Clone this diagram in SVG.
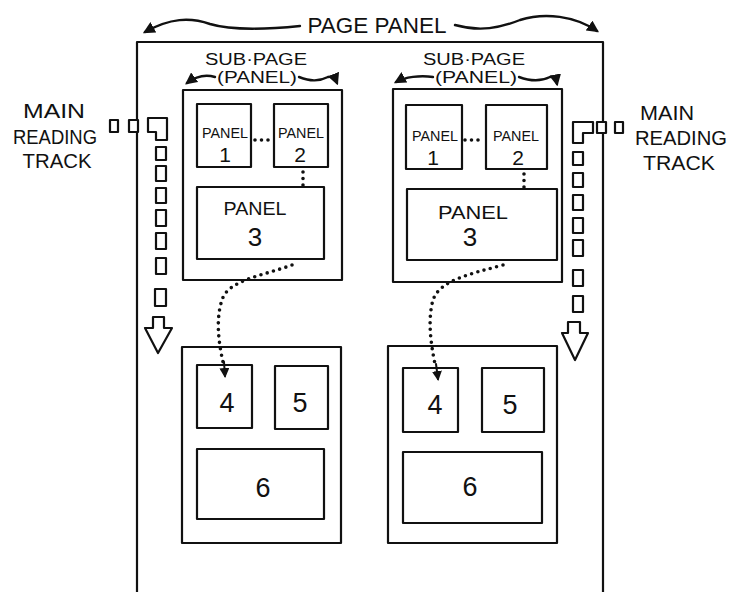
<svg xmlns="http://www.w3.org/2000/svg" width="732" height="592" viewBox="0 0 732 592">
<defs>
<style>
.box{fill:none;stroke:#111;stroke-width:2.2;stroke-linejoin:round}
.trk{fill:#fff;stroke:#111;stroke-width:2.2;stroke-linejoin:round}
.dot{fill:none;stroke:#111;stroke-width:3.6;stroke-linecap:round;stroke-dasharray:0 6.5}
.cur{fill:none;stroke:#111;stroke-width:2.4;stroke-linecap:round}
text{font-family:"Liberation Sans","DejaVu Sans",sans-serif;fill:#111;text-anchor:middle;dominant-baseline:central}
.lbl{font-size:20px}
.sm{font-size:15px}
.md{font-size:19px}
.sub{font-size:16px}
.one{font-size:21px}
.num{font-size:27px}
</style>
<marker id="ah" viewBox="0 0 10 10" refX="8" refY="5" markerWidth="5" markerHeight="5" orient="auto">
<path d="M0,0 L10,5 L0,10 z" fill="#111"/>
</marker>
</defs>
<rect width="732" height="592" fill="#fff"/>

<g id="page-panel">
<polyline class="box" points="137,592 137,42 603,42 603,592"/>
<text x="377" y="25" style="font-size:22px" textLength="139" lengthAdjust="spacingAndGlyphs">PAGE PANEL</text>
<path class="cur" d="M300,26 C260,30 230,30 210,24 C190,17 170,18 145,32" marker-end="url(#ah)"/>
<path class="cur" d="M455,25 C480,32 500,28 520,20 C545,12 575,16 597,31" marker-end="url(#ah)"/>
</g>

<g id="track-left">
<text class="lbl" x="54" y="111" textLength="62" lengthAdjust="spacingAndGlyphs">MAIN</text>
<text class="lbl" x="55" y="137" textLength="84" lengthAdjust="spacingAndGlyphs">READING</text>
<text class="lbl" x="57" y="161" textLength="69" lengthAdjust="spacingAndGlyphs">TRACK</text>
<rect class="trk" x="110" y="120" width="8" height="12"/>
<rect class="trk" x="129" y="120" width="9" height="12"/>
<polygon class="trk" points="148,118 167,118 167,140 156,140 156,132 148,132"/>
<rect class="trk" x="156" y="147" width="10" height="13"/>
<rect class="trk" x="156" y="166" width="10" height="15"/>
<rect class="trk" x="156" y="188" width="10" height="15"/>
<rect class="trk" x="156" y="210" width="10" height="16"/>
<rect class="trk" x="156" y="233" width="10" height="16"/>
<rect class="trk" x="156" y="258" width="10" height="16"/>
<rect class="trk" x="155" y="289" width="11" height="17"/>
<polygon class="trk" points="153,317 164,317 164,328 172,328 158,353 145,328 153,328"/>
</g>

<g id="track-right">
<text class="lbl" x="667" y="113" textLength="54" lengthAdjust="spacingAndGlyphs">MAIN</text>
<text class="lbl" x="681" y="138" textLength="92" lengthAdjust="spacingAndGlyphs">READING</text>
<text class="lbl" x="679" y="163" textLength="72" lengthAdjust="spacingAndGlyphs">TRACK</text>
<rect class="trk" x="597" y="122" width="9" height="11"/>
<rect class="trk" x="615" y="122" width="8" height="11"/>
<polygon class="trk" points="573,122 593,122 593,133 583,133 583,143 573,143"/>
<rect class="trk" x="573" y="152" width="10" height="13"/>
<rect class="trk" x="573" y="173" width="10" height="14"/>
<rect class="trk" x="573" y="195" width="10" height="15"/>
<rect class="trk" x="573" y="218" width="10" height="15"/>
<rect class="trk" x="573" y="240" width="10" height="16"/>
<rect class="trk" x="573" y="270" width="10" height="16"/>
<rect class="trk" x="573" y="296" width="10" height="16"/>
<polygon class="trk" points="568,322 580,322 580,333 588,333 575,360 562,333 568,333"/>
</g>

<g id="subpage-label-left">
<text class="sub" x="256" y="59" textLength="102" lengthAdjust="spacingAndGlyphs">SUB·PAGE</text>
<text class="sub" x="257" y="77" textLength="80" lengthAdjust="spacingAndGlyphs">(PANEL)</text>
<path class="cur" d="M215,77 C205,74 195,77 187,83" marker-end="url(#ah)"/>
<path class="cur" d="M299,77 C310,81 318,82 328,77 C332,76 335,78 337,83" marker-end="url(#ah)"/>
</g>
<g id="subpage-label-right">
<text class="sub" x="474" y="59" textLength="102" lengthAdjust="spacingAndGlyphs">SUB·PAGE</text>
<text class="sub" x="476" y="77" textLength="82" lengthAdjust="spacingAndGlyphs">(PANEL)</text>
<path class="cur" d="M433,77 C420,75 405,77 396,82" marker-end="url(#ah)"/>
<path class="cur" d="M519,77 C530,81 540,82 550,77 C554,76 556,79 557,84" marker-end="url(#ah)"/>
</g>

<g id="subpage-top-left">
<rect class="box" x="183" y="90" width="159" height="190"/>
</g>
<g id="panel1-left"><rect class="box" x="197" y="104" width="54" height="63"/>
<text class="sm" x="225" y="132" textLength="46" lengthAdjust="spacingAndGlyphs">PANEL</text>
<text class="one" x="225" y="154">1</text></g>
<g id="panel2-left"><rect class="box" x="274" y="104" width="54" height="63"/>
<text class="sm" x="301" y="132" textLength="46" lengthAdjust="spacingAndGlyphs">PANEL</text>
<text class="one" x="300" y="154">2</text></g>
<g id="panel3-left"><rect class="box" x="197" y="187" width="127" height="72"/>
<text class="md" x="255" y="208" textLength="63" lengthAdjust="spacingAndGlyphs">PANEL</text>
<text x="255" y="237" style="font-size:26px">3</text></g>

<g id="subpage-top-right">
<rect class="box" x="393" y="89" width="169" height="193"/>
</g>
<g id="panel1-right"><rect class="box" x="406" y="105" width="56" height="64"/>
<text class="sm" x="435" y="135" textLength="46" lengthAdjust="spacingAndGlyphs">PANEL</text>
<text class="one" x="433" y="157">1</text></g>
<g id="panel2-right"><rect class="box" x="486" y="105" width="61" height="64"/>
<text class="sm" x="516" y="135" textLength="46" lengthAdjust="spacingAndGlyphs">PANEL</text>
<text class="one" x="518" y="157">2</text></g>
<g id="panel3-right"><rect class="box" x="407" y="189" width="150" height="71"/>
<text class="md" x="473" y="212" textLength="70" lengthAdjust="spacingAndGlyphs">PANEL</text>
<text x="470" y="237" style="font-size:26px">3</text></g>

<g id="subpage-bottom-left">
<rect class="box" x="182" y="347" width="159" height="196"/>
</g>
<g id="panel4-left"><rect class="box" x="197" y="365" width="55" height="63"/>
<text class="num" x="227" y="403">4</text></g>
<g id="panel5-left"><rect class="box" x="275" y="366" width="53" height="63"/>
<text class="num" x="300" y="403">5</text></g>
<g id="panel6-left"><rect class="box" x="197" y="449" width="127" height="70"/>
<text class="num" x="263" y="488">6</text></g>

<g id="subpage-bottom-right">
<rect class="box" x="388" y="346" width="169" height="197"/>
</g>
<g id="panel4-right"><rect class="box" x="403" y="368" width="55" height="64"/>
<text class="num" x="435" y="405">4</text></g>
<g id="panel5-right"><rect class="box" x="482" y="368" width="62" height="64"/>
<text class="num" x="510" y="405">5</text></g>
<g id="panel6-right"><rect class="box" x="403" y="452" width="139" height="71"/>
<text class="num" x="470" y="487">6</text></g>

<g id="connectors">
<path class="dot" d="M255,140 L272,140"/>
<path class="dot" d="M303,172 L303,186"/>
<path class="dot" d="M465,140 L484,140"/>
<path class="dot" d="M524,174 L524,188"/>
<path class="dot" d="M292,265 C262,276 228,280 222,300 C216,318 218,340 223,362"/>
<path class="cur" d="M224,362 L225,376" marker-end="url(#ah)" style="stroke-width:2"/>
<path class="dot" d="M503,265 C470,274 440,280 433,300 C428,318 430,340 435,364"/>
<path class="cur" d="M436,364 L438,379" marker-end="url(#ah)" style="stroke-width:2"/>
</g>
</svg>
